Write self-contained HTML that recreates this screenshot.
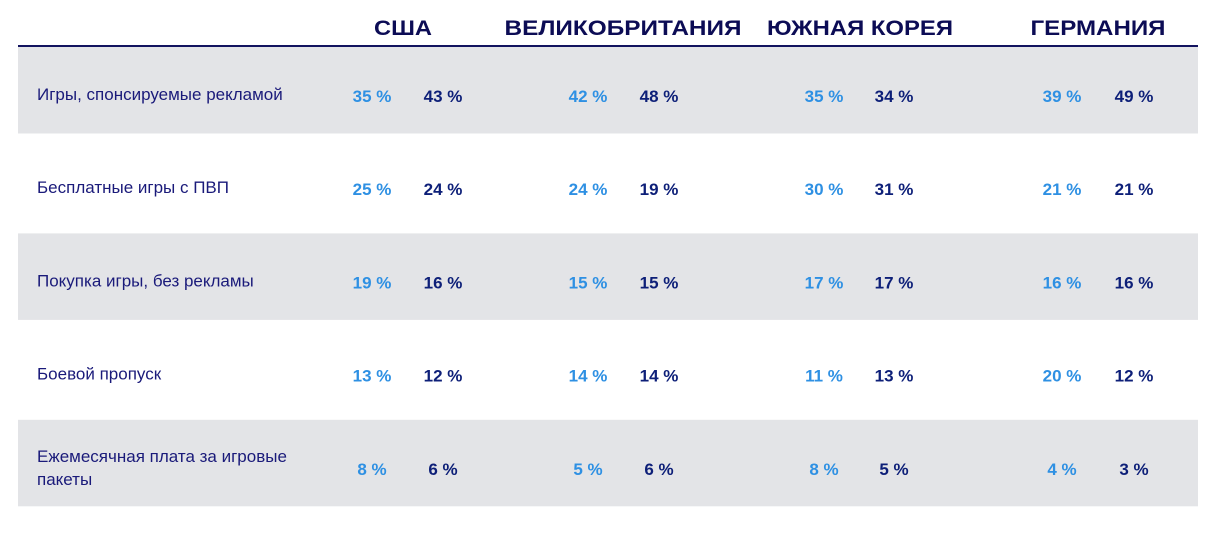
<!DOCTYPE html>
<html><head><meta charset="utf-8">
<style>
html,body{margin:0;padding:0;background:#fff;width:1226px;height:535px;overflow:hidden;}
svg{display:block;font-family:"Liberation Sans","DejaVu Sans",sans-serif;}
</style></head>
<body>
<svg id="chart" width="1226" height="535" viewBox="0 0 1226 535" xmlns="http://www.w3.org/2000/svg"></svg>
<script>
const countries = ["США","ВЕЛИКОБРИТАНИЯ","ЮЖНАЯ КОРЕЯ","ГЕРМАНИЯ"];
const categories = [["Игры, спонсируемые рекламой"],["Бесплатные игры с ПВП"],["Покупка игры, без рекламы"],["Боевой пропуск"],["Ежемесячная плата за игровые","пакеты"]];
const seriesA = [[35,42,35,39],[25,24,30,21],[19,15,17,16],[13,14,11,20],[8,5,8,4]];
const seriesB = [[43,48,34,49],[24,19,31,21],[16,15,17,16],[12,14,13,12],[6,6,5,3]];

const NS="http://www.w3.org/2000/svg";
const svg=document.getElementById('chart');
function mk(tag,attrs,parent){const e=document.createElementNS(NS,tag);for(const k in attrs)e.setAttribute(k,attrs[k]);(parent||svg).appendChild(e);return e;}
const hdrX=[403,623,860,1098], hdrW=[58,237,186,135];
const colA=[372,588,824,1062], colB=[443,659,894,1134];
const rowY=i=>95+i*93.2;
// bands
for(let i=0;i<categories.length;i++){
  if(i%2===0){
    const r=mk('rect',{x:18,y:rowY(i)-48,width:1180,height:86.5,fill:'#e3e4e7'});
    
    
  }
}
// header line
const ln=mk('rect',{x:18,y:45,width:1180,height:2,fill:'#12135f'});


countries.forEach((c,j)=>{
  const t=mk('text',{x:hdrX[j],y:35,'text-anchor':'middle','font-size':21,'font-weight':'bold',fill:'#0c0c55',textLength:hdrW[j],lengthAdjust:'spacingAndGlyphs'});
  t.textContent=c;
  
  
});
categories.forEach((lines,i)=>{
  const y=rowY(i);
  const multi=lines.length>1;
  lines.forEach((s,k)=>{
    const t=mk('text',{x:37,y:(multi? y-6+k*23 : y+5),'font-size':17,fill:'#1a1a7a'});
    t.textContent=s;
    
    
  });
  for(let j=0;j<4;j++){
    const a=mk('text',{x:colA[j],y:y+7,'text-anchor':'middle','font-size':17,'font-weight':'bold',fill:'#2e90e3'});
    a.textContent=seriesA[i][j]+' %';
    
    
    const b=mk('text',{x:colB[j],y:y+7,'text-anchor':'middle','font-size':17,'font-weight':'bold',fill:'#0d1f78'});
    b.textContent=seriesB[i][j]+' %';
    
    
  }
});
</script>
</body></html>
